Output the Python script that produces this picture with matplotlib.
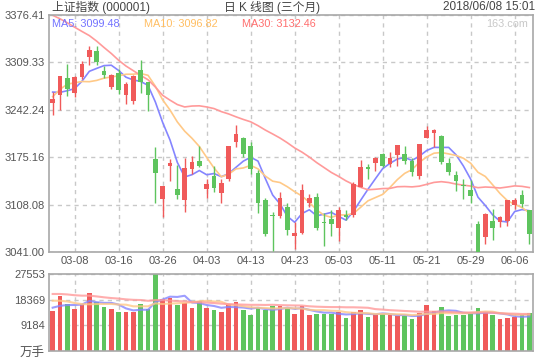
import matplotlib
matplotlib.use("Agg")
import matplotlib.pyplot as plt
import numpy as np
import pandas as pd

plt.rcParams['font.family'] = ['Liberation Sans', 'Noto Sans CJK SC']

# trading days shown (three months up to 2018-06-08)
dates = ['03-05', '03-06', '03-07', '03-08', '03-09', '03-12', '03-13', '03-14', '03-15', '03-16',
         '03-19', '03-20', '03-21', '03-22', '03-23', '03-26', '03-27', '03-28', '03-29', '03-30',
         '04-02', '04-03', '04-04', '04-09', '04-10', '04-11', '04-12', '04-13', '04-16', '04-17',
         '04-18', '04-19', '04-20', '04-23', '04-24', '04-25', '04-26', '04-27', '05-02', '05-03',
         '05-04', '05-07', '05-08', '05-09', '05-10', '05-11', '05-14', '05-15', '05-16', '05-17',
         '05-18', '05-21', '05-22', '05-23', '05-24', '05-25', '05-28', '05-29', '05-30', '05-31',
         '06-01', '06-04', '06-05', '06-06', '06-07', '06-08']

open_ = [3252, 3263, 3287, 3266, 3289, 3317, 3325, 3297, 3275, 3294,
         3263, 3254, 3299, 3281, 3173, 3116, 3163, 3130, 3115, 3159,
         3170, 3130, 3148, 3124, 3144, 3196, 3202, 3191, 3153, 3114,
         3093, 3092, 3104, 3063, 3068, 3111, 3119, 3083, 3088, 3075,
         3093, 3093, 3133, 3162, 3167, 3180, 3165, 3178, 3180, 3170,
         3149, 3203, 3210, 3205, 3167, 3150, 3136, 3129, 3081, 3062,
         3085, 3083, 3085, 3108, 3122, 3100]
high = [3268, 3290, 3307, 3290, 3311, 3333, 3332, 3304, 3293, 3300,
        3281, 3292, 3313, 3282, 3189, 3134, 3173, 3164, 3174, 3177,
        3191, 3144, 3163, 3145, 3191, 3221, 3204, 3197, 3157, 3117,
        3097, 3126, 3111, 3083, 3137, 3123, 3124, 3096, 3100, 3105,
        3100, 3140, 3171, 3166, 3176, 3181, 3183, 3193, 3191, 3174,
        3194, 3219, 3215, 3207, 3174, 3156, 3145, 3143, 3085, 3096,
        3102, 3092, 3115, 3118, 3129, 3100]
low = [3235, 3242, 3262, 3260, 3286, 3305, 3305, 3287, 3271, 3265,
       3250, 3251, 3266, 3241, 3110, 3091, 3142, 3116, 3097, 3152,
       3161, 3118, 3126, 3110, 3142, 3190, 3176, 3152, 3096, 3063,
       3043, 3089, 3065, 3045, 3067, 3105, 3072, 3049, 3063, 3056,
       3086, 3091, 3133, 3145, 3155, 3161, 3162, 3163, 3165, 3148,
       3144, 3202, 3189, 3166, 3150, 3128, 3116, 3111, 3041.00, 3052,
       3058, 3077, 3078, 3102, 3105, 3052]
close = [3256.93, 3289.64, 3271.67, 3288.41, 3307.17, 3326.70, 3310.24, 3291.38, 3291.11, 3269.88,
         3279.25, 3290.64, 3280.95, 3263.48, 3152.76, 3133.72, 3166.65, 3122.29, 3160.53, 3168.90,
         3163.18, 3136.63, 3131.11, 3138.29, 3190.32, 3208.08, 3180.16, 3159.05, 3110.65, 3066.80,
         3091.40, 3117.38, 3071.54, 3068.01, 3128.93, 3117.97, 3075.03, 3082.23, 3081.18, 3100.86,
         3091.03, 3136.65, 3161.50, 3159.15, 3174.41, 3163.26, 3174.03, 3192.12, 3169.57, 3154.28,
         3193.30, 3213.84, 3214.35, 3168.96, 3154.65, 3141.30, 3135.08, 3120.46, 3041.44, 3095.47,
         3075.14, 3091.19, 3114.21, 3115.18, 3109.50, 3067.15]
# volume, 万手
volume = [14420, 19790, 16930, 15030, 16930, 20860, 17530, 15740, 15030, 13950,
          13950, 13950, 16930, 15030, 27553, 18600, 19080, 16460, 17170, 15390,
          17890, 15390, 14670, 13950, 16930, 17530, 14670, 12880, 15390, 14670,
          16100, 16100, 15270, 13240, 16100, 12880, 13240, 13240, 13240, 13950,
          11700, 13950, 14670, 12170, 13240, 13240, 12880, 12520, 12520, 11450,
          13600, 16460, 14310, 15740, 12520, 12880, 12880, 13600, 15390, 13950,
          12880, 11450, 11810, 12170, 12880, 13600]

# closes / volumes before 03-05, only used to warm up the moving averages
prior_close = [3436.59, 3444.67, 3474.75, 3487.86, 3501.36, 3546.50, 3559.47, 3548.31, 3558.13, 3523.00,
               3488.01, 3480.83, 3447.02, 3462.08, 3487.50, 3370.65, 3309.26, 3262.05, 3129.85, 3154.13,
               3184.96, 3199.16, 3268.56, 3289.02, 3329.57, 3292.07, 3259.41, 3273.75, 3254.53]
prior_volume = [19500, 22000, 23500, 21500, 20500, 26000, 25500, 23000, 19500, 22500,
                19000, 19000, 23500, 20000, 19500, 23000, 22500, 18500, 24000, 19500,
                20000, 19500, 20500, 21000, 21500, 16500, 15500, 15000, 16100]

ma_labels = ['MA5: 3099.48', 'MA10: 3096.82', 'MA30: 3132.46']
price_ticks = ['3041.00', '3108.08', '3175.16', '3242.24', '3309.33', '3376.41']
vol_ticks = ['万手', '9184', '18369', '27553']

RED = '#f05a5a'
GREEN = '#5ec45e'
MA_COLORS = ['#8585ff', '#ffc987', '#ff9a9a']
MA_TEXT = ['#7373ff', '#ffbe62', '#ff6e6e']
GRID = '#c8c8c8'
SPINE = '#a8a8a8'
TXT = '#555555'

n = len(close)
x = np.arange(n)
o = np.array(open_)
c = np.array(close)
up = c >= o
colors = np.where(up, RED, GREEN)

cs = pd.Series(prior_close + close)
vs = pd.Series(prior_volume + volume)
pma = [cs.rolling(w).mean().iloc[-n:].values for w in (5, 10, 30)]
vma = [vs.rolling(w).mean().iloc[-n:].values for w in (5, 10, 30)]

fig = plt.figure(figsize=(5.4, 3.6), dpi=100)
ax = fig.add_axes([49 / 540, 1 - 252 / 360, 484 / 540, 237 / 360])
axv = fig.add_axes([49 / 540, 1 - 351 / 360, 484 / 540, 77 / 360])

tick_idx = list(range(3, n, 6))

# price panel
for k in range(3):
    ax.plot(x, pma[k], color=MA_COLORS[k], lw=1.2, zorder=2)
ax.vlines(x, low, high, colors=colors, lw=1, zorder=3)
ax.bar(x, np.maximum(np.abs(c - o), 1.3), bottom=np.minimum(o, c), width=0.68,
       color=colors, linewidth=0, zorder=4)

pvals = [float(t) for t in price_ticks]
ax.set_ylim(pvals[0], pvals[-1])
ax.set_yticks(pvals)
ax.set_yticklabels(price_ticks)
ax.set_xlim(-0.5, n - 0.5)
ax.set_xticks(tick_idx)
ax.set_xticklabels([dates[i] for i in tick_idx])

# volume panel
for k in range(3):
    axv.plot(x, vma[k], color=MA_COLORS[k], lw=1.5, alpha=0.8, zorder=3)
axv.bar(x, volume, width=0.68, color=colors, linewidth=0, zorder=2)
vvals = [0, 9184, 18369, 27553]
axv.set_ylim(0, 27553)
axv.set_yticks(vvals)
axv.set_yticklabels(vol_ticks)
axv.set_xlim(-0.5, n - 0.5)
axv.set_xticks(tick_idx)
axv.set_xticklabels([])

for a in (ax, axv):
    a.grid(True, ls=(0, (3, 3)), color=GRID, lw=1, zorder=0)
    a.set_axisbelow(True)
    a.tick_params(length=0, labelsize=8, labelcolor=TXT, pad=3)
    for s in a.spines.values():
        s.set_color(SPINE)
        s.set_linewidth(1.2)
axv.get_yticklabels()[0].set_fontsize(9)

# MA legend texts
ma_x = [52, 144, 242]
for k in range(3):
    ax.text((ma_x[k] - 49) / 484, 1 - 9 / 237, ma_labels[k], transform=ax.transAxes,
            color=MA_TEXT[k], fontsize=7.8, va='center', ha='left')
ax.text(1 - 5 / 484, 1 - 9 / 237, '163.com', transform=ax.transAxes,
        color='#c8c8c8', fontsize=7.8, va='center', ha='right')

# header
fig.text(52 / 540, 1 - 7 / 360, '上证指数 (000001)', fontsize=8.5, color='#444444', va='center')
fig.text(272 / 540, 1 - 7 / 360, '日 K 线图 (三个月)', fontsize=8.5, color='#444444',
         va='center', ha='center')
fig.text(535 / 540, 1 - 7 / 360, '2018/06/08 15:01', fontsize=8.5, color='#444444',
         va='center', ha='right')

fig.savefig('out.png', dpi=100)
